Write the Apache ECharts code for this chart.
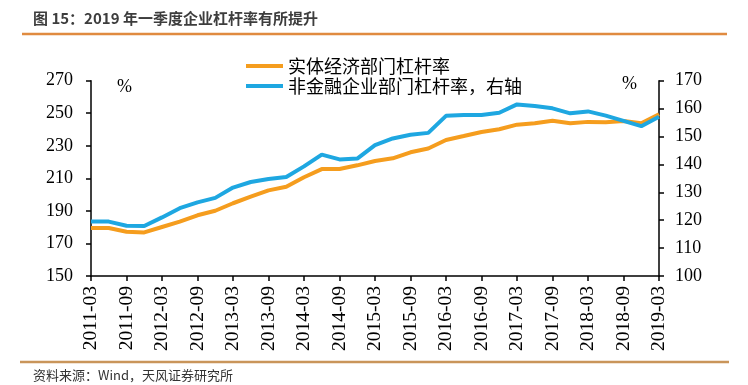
<!DOCTYPE html>
<html>
<head>
<meta charset="utf-8">
<script src="https://cdn.jsdelivr.net/npm/echarts@6/dist/echarts.min.js"></script>
<style>
html,body{margin:0;padding:0;background:#fff;}
#c{width:748px;height:385px;}
</style>
</head>
<body>
<div id="c"></div>
<script>
var categories = ['2011-03','2011-06','2011-09','2011-12','2012-03','2012-06','2012-09','2012-12',
  '2013-03','2013-06','2013-09','2013-12','2014-03','2014-06','2014-09','2014-12',
  '2015-03','2015-06','2015-09','2015-12','2016-03','2016-06','2016-09','2016-12',
  '2017-03','2017-06','2017-09','2017-12','2018-03','2018-06','2018-09','2018-12','2019-03'];
var realEconomy = [179.5,179.5,177.2,176.8,180.1,183.4,187.3,190.1,194.7,198.7,202.6,204.8,210.7,215.7,215.7,218.0,
  220.7,222.3,226.0,228.3,233.6,236.0,238.5,240.2,243.0,243.8,245.4,243.8,244.7,244.5,245.2,243.8,249.4];
var nonFinCorp = [119.5,119.5,118.0,117.9,121.0,124.3,126.4,128.0,131.7,133.7,134.8,135.5,139.3,143.5,141.8,142.1,
  146.9,149.3,150.6,151.3,157.4,157.7,157.7,158.5,161.5,160.9,160.1,158.3,159.0,157.5,155.6,153.7,157.1];
var seriesNames = ['实体经济部门杠杆率','非金融企业部门杠杆率，右轴'];
var titleText = '图 15：2019 年一季度企业杠杆率有所提升';
var sourceText = '资料来源：Wind，天风证券研究所';

var chart = echarts.init(document.getElementById('c'), null, {renderer:'canvas'});
var serif = '"Liberation Serif","Times New Roman",serif';
var cjk = '"Noto Sans CJK SC","Noto Sans",sans-serif';
var axisCommon = {
  axisLine:{show:true,lineStyle:{color:'#000',width:1.5}},
  axisTick:{show:true,length:5,lineStyle:{color:'#000',width:1.5}},
  splitLine:{show:false}
};
chart.setOption({
  animation:false,
  backgroundColor:'#fff',
  grid:{left:91,right:89,top:80.7,bottom:109,containLabel:false},
  legend:{
    orient:'vertical',left:241,top:52,itemWidth:37,itemHeight:4,itemGap:2,icon:'rect',
    textStyle:{fontFamily:cjk,fontSize:18,color:'#000'},
    data:seriesNames
  },
  xAxis:{
    type:'category',data:categories,boundaryGap:false,
    axisLine:{show:true,lineStyle:{color:'#000',width:1.5}},
    axisTick:{show:true,interval:1,length:5,lineStyle:{color:'#000',width:1.5}},
    axisLabel:{interval:1,rotate:90,margin:10,fontFamily:serif,fontSize:19.5,color:'#000'}
  },
  yAxis:[
    Object.assign({type:'value',min:150,max:270,interval:20,position:'left',
      axisLabel:{margin:18,fontFamily:serif,fontSize:18,color:'#000'}},axisCommon),
    Object.assign({type:'value',min:100,max:170,interval:10,position:'right',
      axisLabel:{margin:16,fontFamily:serif,fontSize:18,color:'#000'}},axisCommon)
  ],
  graphic:[
    {type:'text',left:33,top:11,style:{text:titleText,font:'bold 15px '+cjk,fill:'#3d3d3d'}},
    {type:'line',shape:{x1:22,y1:34,x2:727,y2:34},style:{stroke:'#e08b40',lineWidth:2.5}},
    {type:'line',shape:{x1:20,y1:362,x2:729,y2:362},style:{stroke:'#c9955a',lineWidth:2.5}},
    {type:'text',left:33,top:369,style:{text:sourceText,font:'13px '+cjk,fill:'#333'}},
    {type:'text',left:117,top:78,style:{text:'%',font:'18px '+serif,fill:'#000'}},
    {type:'text',left:622,top:75,style:{text:'%',font:'18px '+serif,fill:'#000'}}
  ],
  series:[
    {name:seriesNames[0],type:'line',yAxisIndex:0,data:realEconomy,showSymbol:false,
      lineStyle:{color:'#f59d1e',width:4},itemStyle:{color:'#f59d1e'}},
    {name:seriesNames[1],type:'line',yAxisIndex:1,data:nonFinCorp,showSymbol:false,
      lineStyle:{color:'#1ea7e1',width:4},itemStyle:{color:'#1ea7e1'}}
  ]
});
</script>
</body>
</html>
